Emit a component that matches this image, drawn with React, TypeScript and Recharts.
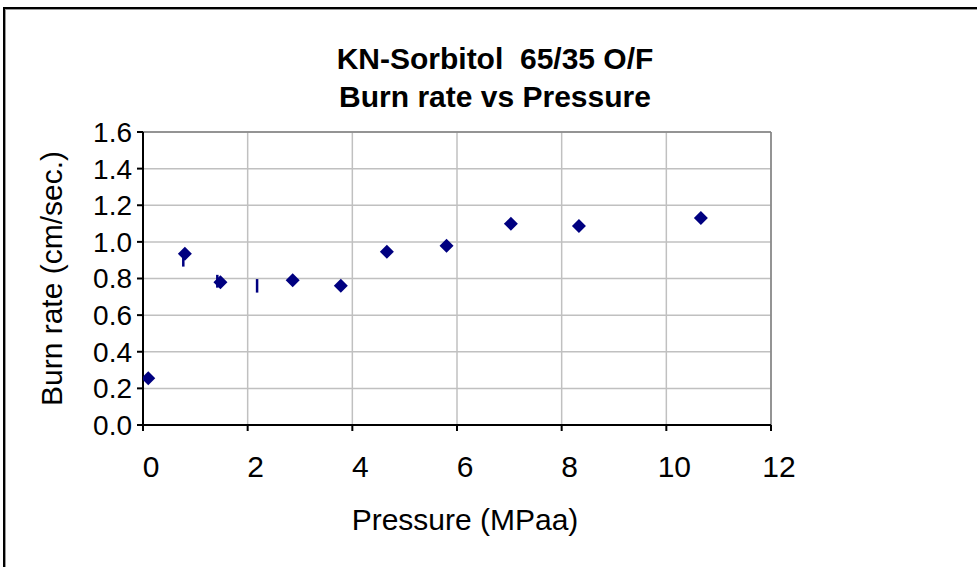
import {
  ScatterChart,
  Scatter,
  XAxis,
  YAxis,
  CartesianGrid,
  ErrorBar,
  ReferenceLine,
  Label,
} from "recharts";

const pressure = [0.1, 0.8, 1.48, 2.86, 3.78, 4.66, 5.8, 7.03, 8.33, 10.66];
const burnRate = [0.255, 0.935, 0.78, 0.79, 0.76, 0.946, 0.979, 1.099, 1.087, 1.13];

// points drawn only as vertical bars (no marker)
const barPressure = [0.77, 1.42, 2.18];
const barCenter = [0.895, 0.785, 0.76];
const barHalf = [0.03, 0.035, 0.037];

const xTicks = [0, 2, 4, 6, 8, 10, 12];
const yTicks = [0, 0.2, 0.4, 0.6, 0.8, 1.0, 1.2, 1.4, 1.6];

const points = pressure.map((x, i) => ({ x, y: burnRate[i] }));
const barPoints = barPressure.map((x, i) => ({ x, y: barCenter[i], err: barHalf[i] }));

const NAVY = "#000080";
const FONT = "'Liberation Sans', Arial, sans-serif";

function Diamond(props: any) {
  const { cx, cy } = props;
  const s = 7;
  return (
    <polygon
      points={`${cx},${cy - s} ${cx + s},${cy} ${cx},${cy + s} ${cx - s},${cy}`}
      fill={NAVY}
    />
  );
}

export default function App() {
  return (
    <div
      style={{
        position: "absolute",
        left: 0,
        top: 0,
        width: 977,
        height: 567,
        overflow: "hidden",
        background: "#fff",
        fontFamily: FONT,
      }}
    >
      <div
        style={{
          position: "absolute",
          left: 3,
          top: 7,
          width: 1000,
          height: 600,
          border: "2px solid #000",
          boxShadow: "1px 1px 0 #999 inset",
        }}
      />
      <div
        style={{
          position: "absolute",
          left: 0,
          top: 40,
          width: 990,
          textAlign: "center",
          fontWeight: "bold",
          fontSize: 30,
          lineHeight: "38px",
          whiteSpace: "pre",
          color: "#000",
        }}
      >
        {"KN-Sorbitol  65/35 O/F\nBurn rate vs Pressure"}
      </div>
      <div style={{ position: "absolute", left: 0, top: 0 }}>
        <ScatterChart
          width={977}
          height={567}
          margin={{ top: 132, right: 206, left: 0, bottom: 0 }}
          style={{ fontFamily: FONT }}
        >
          <CartesianGrid stroke="#c0c0c0" strokeWidth={1.5} />
          <XAxis
            type="number"
            dataKey="x"
            domain={[0, 12]}
            ticks={xTicks}
            interval={0}
            height={142}
            stroke="#000"
            strokeWidth={2}
            tickSize={6}
            tickMargin={25}
            tick={{ fill: "#000", fontSize: 30, dx: 8 }}
            allowDataOverflow
          >
            <Label
              value="Pressure (MPaa)"
              position="insideBottom"
              offset={37}
              dx={8}
              style={{ fill: "#000", fontSize: 30 }}
            />
          </XAxis>
          <YAxis
            type="number"
            dataKey="y"
            domain={[0, 1.6]}
            ticks={yTicks}
            interval={0}
            width={143}
            stroke="#000"
            strokeWidth={2}
            tickSize={6}
            tickMargin={5}
            tick={{ fill: "#000", fontSize: 28 }}
            tickFormatter={(v: number) => v.toFixed(1)}
            allowDataOverflow
          >
            <Label
              value="Burn rate (cm/sec.)"
              angle={-90}
              position="insideLeft"
              offset={51}
              style={{ fill: "#000", fontSize: 30, textAnchor: "middle" }}
            />
          </YAxis>
          <ReferenceLine y={1.6} stroke="#808080" strokeWidth={1.5} />
          <ReferenceLine x={12} stroke="#808080" strokeWidth={1.5} />
          <Scatter data={barPoints} shape={() => <g />} isAnimationActive={false}>
            <ErrorBar
              dataKey="err"
              direction="y"
              width={0}
              stroke={NAVY}
              strokeWidth={2.5}
              isAnimationActive={false}
            />
          </Scatter>
          <Scatter data={points} shape={Diamond} isAnimationActive={false} />
        </ScatterChart>
      </div>
    </div>
  );
}
